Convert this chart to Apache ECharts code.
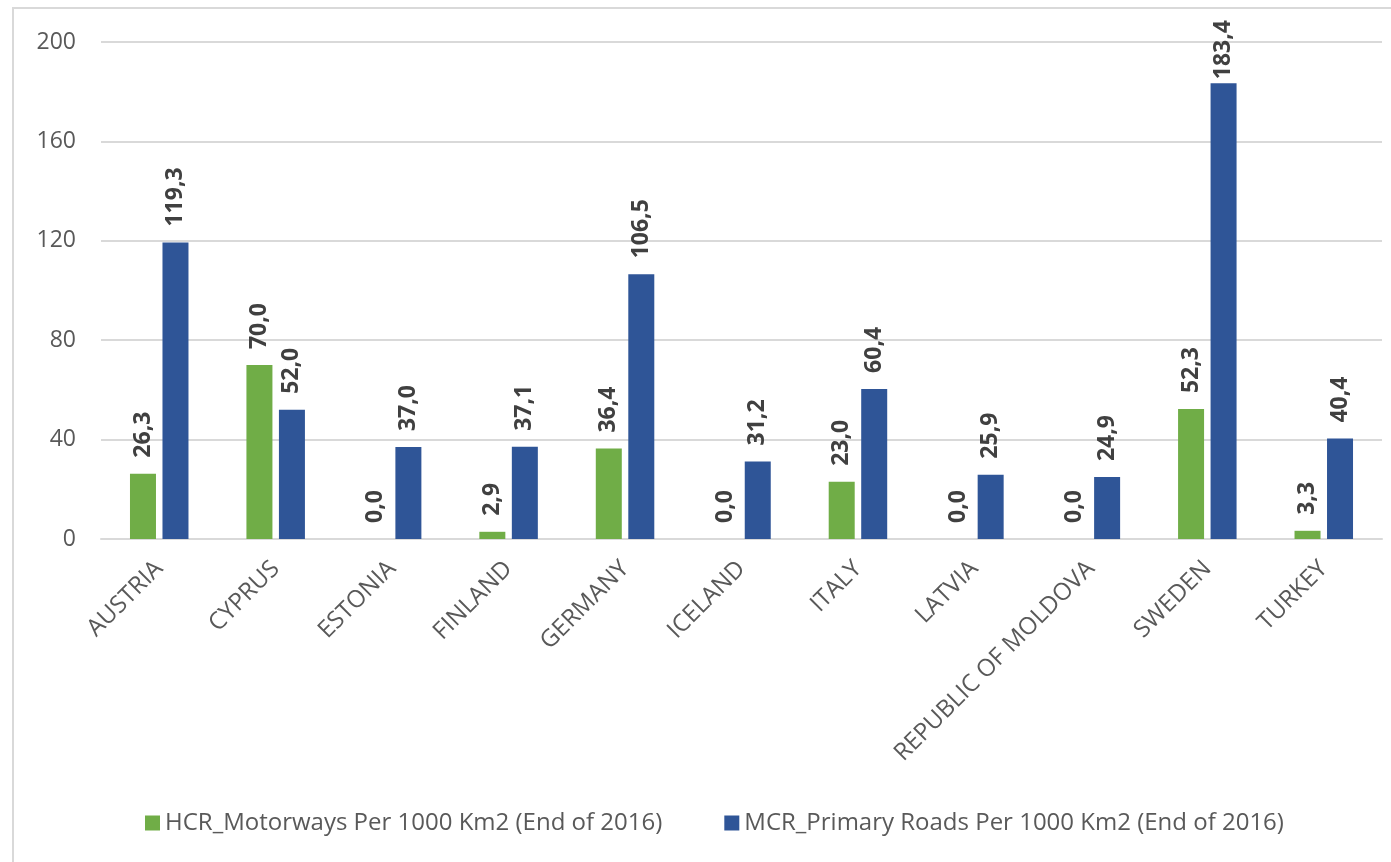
<!DOCTYPE html>
<html>
<head>
<meta charset="utf-8">
<script src="https://cdn.jsdelivr.net/npm/echarts@6/dist/echarts.min.js"></script>
<style>
  html, body { margin: 0; padding: 0; background: #ffffff; }
  #chart { width: 1391px; height: 862px; }
</style>
</head>
<body>
<div id="chart"></div>
<script>
// Road network density by country, end of 2016
const countries = ['AUSTRIA', 'CYPRUS', 'ESTONIA', 'FINLAND', 'GERMANY', 'ICELAND', 'ITALY', 'LATVIA', 'REPUBLIC OF MOLDOVA', 'SWEDEN', 'TURKEY'];
const motorways = [26.3, 70.0, 0.0, 2.9, 36.4, 0.0, 23.0, 0.0, 0.0, 52.3, 3.3];
const primaryRoads = [119.3, 52.0, 37.0, 37.1, 106.5, 31.2, 60.4, 25.9, 24.9, 183.4, 40.4];
const seriesNames = ['HCR_Motorways Per 1000 Km2 (End of 2016)', 'MCR_Primary Roads Per 1000 Km2 (End of 2016)'];
const yTicks = [0, 40, 80, 120, 160, 200];

const FONT = '"Open Sans", "Noto Sans", sans-serif';
const fmt = v => v.toFixed(1).replace('.', ',');
const yMax = yTicks[yTicks.length - 1];

const valueLabel = {
  show: true,
  position: 'top',
  rotate: 90,
  align: 'left',
  verticalAlign: 'middle',
  distance: 16,
  color: '#404040',
  fontFamily: FONT,
  fontWeight: 'bold',
  fontSize: 23,
  formatter: p => fmt(p.value)
};

// Labels on bars close to the top of the axis sit tight against the bar so they stay inside the frame
const withLabelFit = values => values.map(v => (v > yMax * 0.85 ? { value: v, label: { distance: 4 } } : v));

const chart = echarts.init(document.getElementById('chart'), null, { renderer: 'canvas' });
chart.setOption({
  animation: false,
  backgroundColor: '#ffffff',
  graphic: [{
    type: 'rect',
    shape: { x: 13, y: 8, width: 1400, height: 900 },
    style: { fill: 'none', stroke: '#d9d9d9', lineWidth: 2 },
    silent: true
  }],
  grid: { left: 101, right: 9, top: 42, bottom: 323 },
  legend: {
    top: 806,
    left: 140,
    itemWidth: 15,
    itemHeight: 15,
    itemGap: 62,
    icon: 'rect',
    textStyle: { color: '#595959', fontFamily: FONT, fontSize: 24 },
    data: seriesNames
  },
  xAxis: {
    type: 'category',
    data: countries,
    axisLine: { lineStyle: { color: '#d9d9d9', width: 2 } },
    axisTick: { show: false },
    axisLabel: {
      rotate: 45,
      interval: 0,
      margin: 26,
      color: '#595959',
      fontFamily: FONT,
      fontSize: 24
    }
  },
  yAxis: {
    type: 'value',
    min: yTicks[0],
    max: yMax,
    interval: 40,
    axisLine: { show: false },
    axisTick: { show: false },
    splitLine: { lineStyle: { color: '#d9d9d9', width: 2 } },
    axisLabel: {
      margin: 25,
      color: '#595959',
      fontFamily: FONT,
      fontSize: 23
    }
  },
  series: [
    {
      name: seriesNames[0],
      type: 'bar',
      data: withLabelFit(motorways),
      itemStyle: { color: '#70AD47' },
      barWidth: 26,
      barGap: '25%',
      label: valueLabel
    },
    {
      name: seriesNames[1],
      type: 'bar',
      data: withLabelFit(primaryRoads),
      itemStyle: { color: '#2F5597' },
      barWidth: 26,
      barGap: '25%',
      label: valueLabel
    }
  ]
});
</script>
</body>
</html>
